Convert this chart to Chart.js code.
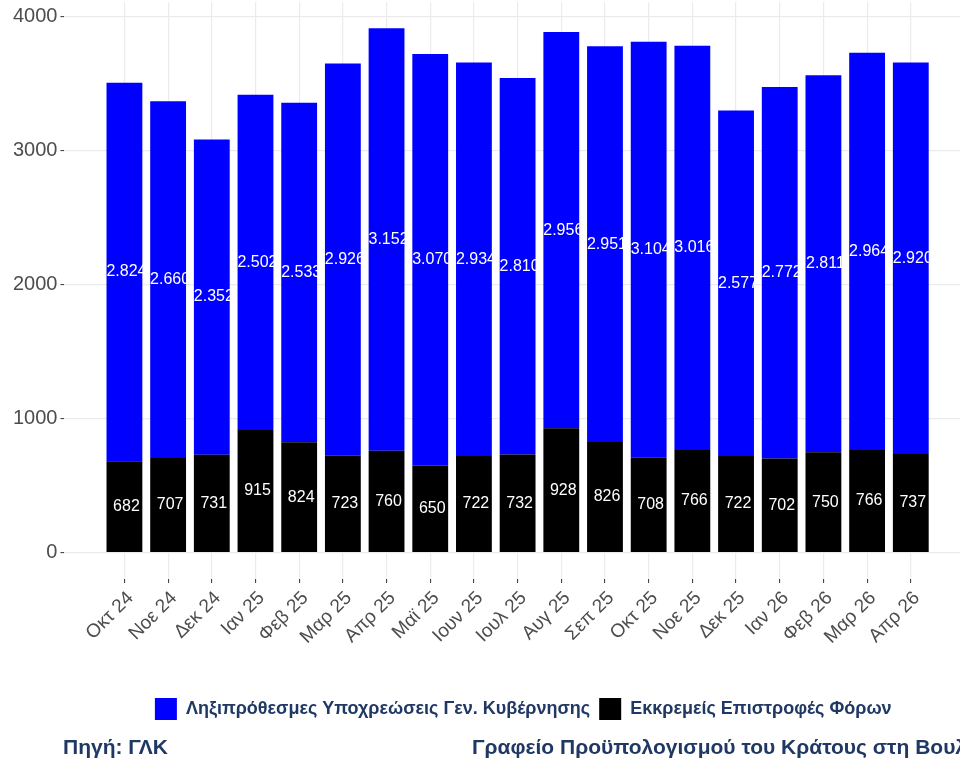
<!DOCTYPE html>
<html lang="el">
<head>
<meta charset="utf-8">
<title>Ληξιπρόθεσμες Υποχρεώσεις</title>
<script src="https://cdn.jsdelivr.net/npm/chart.js@4.4.0/dist/chart.umd.min.js"></script>
<style>
  body { margin: 0; background: #ffffff; }
  #wrap { position: relative; width: 960px; height: 760px; overflow: hidden; }
  #chart { position: absolute; left: 0; top: -13px; }
  .foot {
    position: absolute; top: 735px;
    font-family: "Liberation Sans", Arial, sans-serif;
    font-weight: bold; font-size: 21px; color: #1f3864;
    white-space: nowrap; line-height: 24px;
  }
</style>
</head>
<body>
<div id="wrap">
  <canvas id="chart" width="982" height="773"></canvas>
  <div class="foot" style="left:63px">Πηγή: ΓΛΚ</div>
  <div class="foot" style="left:472px">Γραφείο Προϋπολογισμού του Κράτους στη Βουλή</div>
</div>
<script>
const months = ['Οκτ 24', 'Νοε 24', 'Δεκ 24', 'Ιαν 25', 'Φεβ 25', 'Μαρ 25', 'Απρ 25', 'Μαϊ 25',
  'Ιουν 25', 'Ιουλ 25', 'Αυγ 25', 'Σεπ 25', 'Οκτ 25', 'Νοε 25', 'Δεκ 25', 'Ιαν 26',
  'Φεβ 26', 'Μαρ 26', 'Απρ 26'];

// Εκκρεμείς Επιστροφές Φόρων (black, bottom)
const taxRefunds = [682, 707, 731, 915, 824, 723, 760, 650, 722, 732, 928, 826, 708, 766, 722, 702, 750, 766, 737];
// Ληξιπρόθεσμες Υποχρεώσεις Γεν. Κυβέρνησης (blue, top)
const arrears = [2824, 2660, 2352, 2502, 2533, 2926, 3152, 3070, 2934, 2810, 2956, 2951, 3104, 3016, 2577, 2772, 2811, 2964, 2920];

const yTicks = [0, 1000, 2000, 3000, 4000];

const FONT = '"Liberation Sans", Arial, sans-serif';

function fmt(v) {
  if (v < 1000) return String(v);
  const r = v % 1000;
  return Math.floor(v / 1000) + '.' + String(r).padStart(3, '0');
}

const toPoints = arr => arr.map((v, i) => ({ x: i, y: v }));

const barLabels = {
  id: 'barLabels',
  afterDatasetsDraw(chart) {
    const ctx = chart.ctx;
    ctx.save();
    ctx.fillStyle = '#ffffff';
    ctx.font = '16px ' + FONT;
    ctx.textAlign = 'center';
    ctx.textBaseline = 'middle';
    chart.data.datasets.forEach((ds, di) => {
      const meta = chart.getDatasetMeta(di);
      meta.data.forEach((bar, i) => {
        const p = bar.getCenterPoint();
        ctx.fillText(fmt(ds.data[i].y), p.x + 2, p.y);
      });
    });
    ctx.restore();
  }
};

new Chart(document.getElementById('chart'), {
  type: 'bar',
  data: {
    datasets: [
      {
        label: 'Εκκρεμείς Επιστροφές Φόρων',
        data: toPoints(taxRefunds),
        backgroundColor: '#000000',
        barPercentage: 0.82,
        categoryPercentage: 1
      },
      {
        label: 'Ληξιπρόθεσμες Υποχρεώσεις Γεν. Κυβέρνησης',
        data: toPoints(arrears),
        backgroundColor: '#0000ff',
        barPercentage: 0.82,
        categoryPercentage: 1
      }
    ]
  },
  options: {
    responsive: false,
    animation: false,
    devicePixelRatio: 1,
    layout: { padding: { left: 10, right: 0, top: 2, bottom: 30 } },
    plugins: {
      tooltip: { enabled: false },
      legend: {
        position: 'bottom',
        fullSize: false,
        reverse: true,
        labels: {
          boxWidth: 22,
          boxHeight: 22,
          padding: 9,
          color: '#1f3864',
          font: { family: FONT, size: 18, weight: 'bold' }
        }
      }
    },
    scales: {
      x: {
        type: 'linear',
        stacked: true,
        offset: false,
        min: -1.372,
        max: 19.63,
        afterBuildTicks: axis => { axis.ticks = months.map((_, i) => ({ value: i })); },
        afterFit: axis => { axis.height = 110; },
        border: { display: false },
        grid: { offset: false, color: '#ebebeb', lineWidth: 1.2, tickColor: '#333333', tickLength: 4, tickWidth: 1 },
        ticks: {
          autoSkip: false,
          minRotation: 45,
          maxRotation: 45,
          padding: 4,
          labelOffset: 6,
          color: '#4d4d4d',
          font: { family: FONT, size: 19 },
          callback: v => months[v]
        }
      },
      y: {
        stacked: true,
        min: -196,
        max: 4108,
        afterBuildTicks: axis => { axis.ticks = yTicks.map(v => ({ value: v })); },
        border: { display: false },
        grid: { color: '#ebebeb', lineWidth: 1.2, tickColor: '#333333', tickLength: 4, tickWidth: 1 },
        ticks: {
          padding: 3,
          color: '#4d4d4d',
          font: { family: FONT, size: 20 },
          callback: v => String(v)
        }
      }
    }
  },
  plugins: [barLabels]
});
</script>
</body>
</html>
